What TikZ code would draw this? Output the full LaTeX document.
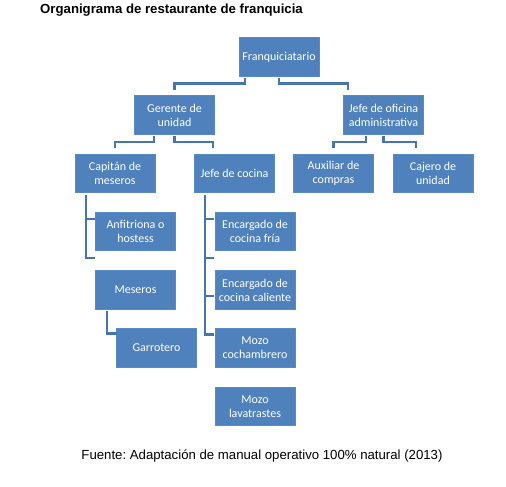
\documentclass[tikz,border=0pt]{standalone}
\usepackage{fontspec}
\setmainfont{Liberation Sans}
\newfontfamily\boxfont{Carlito}
\frenchspacing
\definecolor{boxblue}{HTML}{4F81BD}
\definecolor{boxedge}{HTML}{5A8AC4}
\definecolor{linkblue}{HTML}{4676B0}
\begin{document}
\begin{tikzpicture}[x=1pt,y=-1pt,
  orgbox/.style={rectangle, fill=boxblue, draw=boxedge, line width=0.6pt,
    minimum width=80pt, minimum height=38.5pt, inner sep=1pt,
    align=center, text=white, font=\boxfont\fontsize{12}{14}\selectfont},
  conn/.style={draw=linkblue, line width=2.2pt, line cap=rect},
  titlefont/.style={font=\bfseries\fontsize{13.2}{15}\selectfont},
  notefont/.style={font=\fontsize{13.2}{15}\selectfont}]
\useasboundingbox (0,0) rectangle (506,487);
\fill[white] (0,0) rectangle (506,487);

\node[titlefont, anchor=west, inner sep=0pt] (title) at (40,10) {Organigrama de restaurante de franquicia};

\node[orgbox] (fr)  at (279,57)    {Franquiciatario};
\node[orgbox] (ger) at (174.5,115) {Gerente de\\unidad};
\node[orgbox] (jof) at (383.5,115) {Jefe de oficina\\administrativa};
\node[orgbox] (cap) at (115,173.5) {Capitán de\\meseros};
\node[orgbox] (jc)  at (234.5,173.5) {Jefe de cocina};
\node[orgbox] (aux) at (333.5,173.5) {Auxiliar de\\compras};
\node[orgbox] (caj) at (433,173.5) {Cajero de\\unidad};
\node[orgbox] (anf) at (135.5,231.5) {Anfitriona o\\hostess};
\node[orgbox] (mes) at (135.5,290) {Meseros};
\node[orgbox] (gar) at (156.5,348) {Garrotero};
\node[orgbox] (ecf) at (255,231.5) {Encargado de\\cocina fría};
\node[orgbox] (ecc) at (255,290) {Encargado de\\cocina caliente};
\node[orgbox] (mc)  at (255,348) {Mozo\\cochambrero};
\node[orgbox] (ml)  at (255,406.5) {Mozo\\lavatrastes};

\node[notefont, inner sep=0pt] (note) at (262,456) {Fuente: Adaptación de manual operativo 100\% natural (2013)};

% level 1 brackets
\draw[conn] ([xshift=6pt,yshift=-3pt]fr.south west) |- ([yshift=12pt]ger.north) -- ([yshift=7pt]ger.north);
\draw[conn] ([yshift=-3pt]fr.south) |- ([xshift=5pt,yshift=12pt]jof.north west) -- ([xshift=5pt,yshift=7pt]jof.north west);

% level 2 brackets
\draw[conn] ([xshift=20pt,yshift=-3pt]ger.south west) |- ([yshift=12pt]cap.north) -- ([yshift=7pt]cap.north);
\draw[conn] ([yshift=-3pt]ger.south) |- ([xshift=19pt,yshift=12pt]jc.north west) -- ([xshift=19pt,yshift=7pt]jc.north west);
\draw[conn] ([xshift=23pt,yshift=-3pt]jof.south west) |- ([yshift=12pt]aux.north) -- ([yshift=7pt]aux.north);
\draw[conn] ([yshift=-3pt]jof.south) |- ([xshift=23pt,yshift=12pt]caj.north west) -- ([xshift=23pt,yshift=7pt]caj.north west);

% Capitán de meseros
\coordinate (capx) at ([xshift=11pt,yshift=-3pt]cap.south west);
\coordinate (capt1) at ([xshift=-1pt,yshift=12.5pt]anf.west);
\coordinate (capt2) at ([xshift=-1pt,yshift=-7pt]anf.south west);
\draw[conn] (capx) |- (capt2);
\draw[conn] (capx |- capt1) -- (capt1);

% Meseros -> Garrotero
\draw[conn] ([xshift=12pt,yshift=-3pt]mes.south west) |- ([yshift=-5pt]gar.north west);

% Jefe de cocina
\coordinate (jcx) at ([xshift=11pt,yshift=-3pt]jc.south west);
\coordinate (jct1) at ([xshift=-2pt,yshift=-7pt]ecf.north west);
\coordinate (jct2) at ([xshift=-2pt,yshift=-7pt]ecf.south west);
\coordinate (jct3) at ([xshift=-2pt,yshift=-6pt]ecc.west);
\coordinate (jct4) at ([xshift=-2pt,yshift=-6pt]mc.north west);
\draw[conn] (jcx) |- (jct4);
\draw[conn] (jcx |- jct1) -- (jct1);
\draw[conn] (jcx |- jct2) -- (jct2);
\draw[conn] (jcx |- jct3) -- (jct3);
\end{tikzpicture}
\end{document}
